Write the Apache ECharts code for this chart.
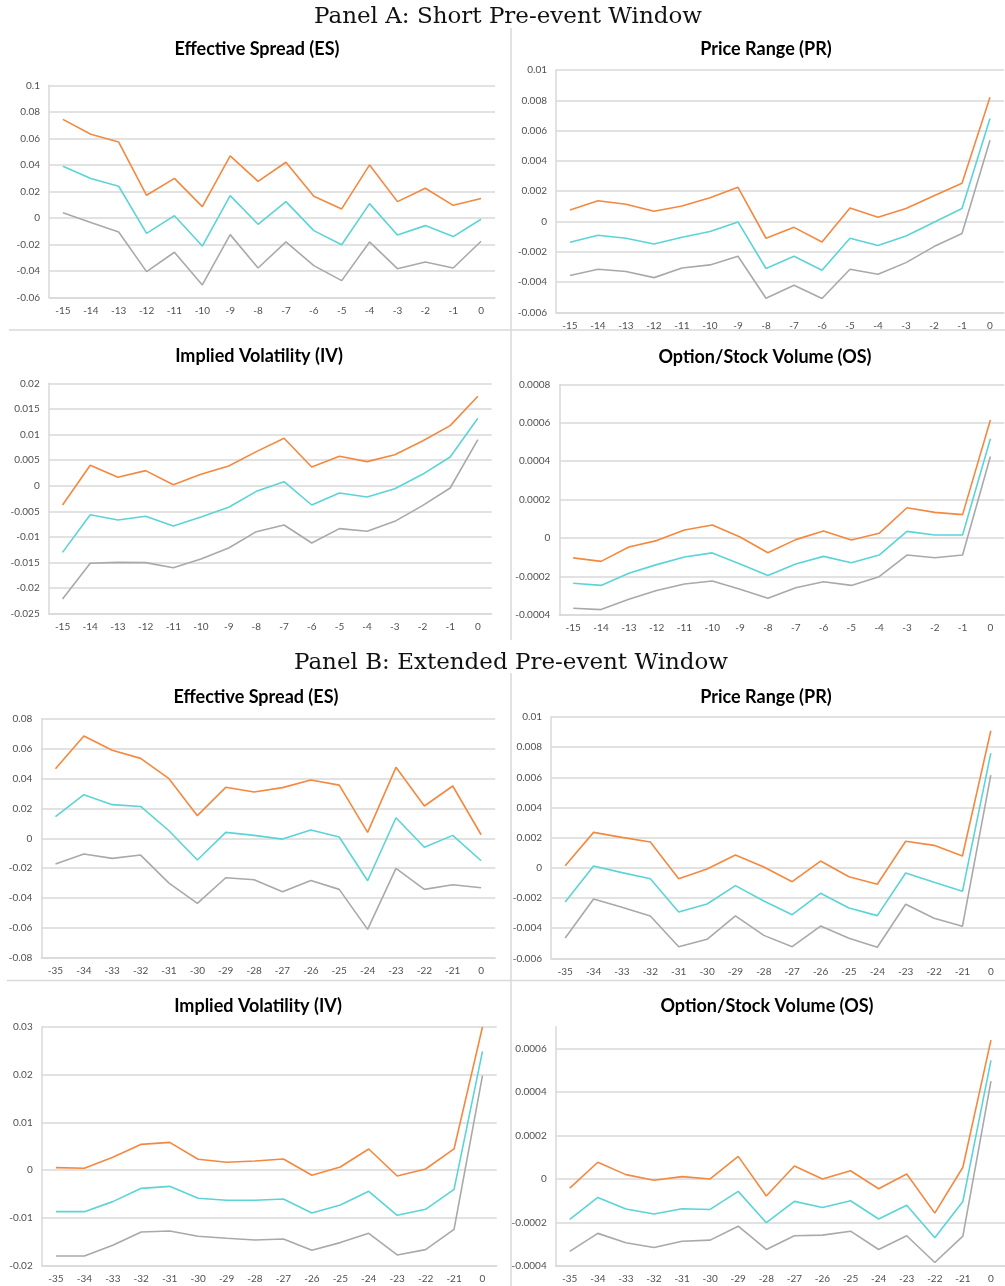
<!DOCTYPE html>
<html>
<head>
<meta charset="utf-8">
<title>Pre-event Window</title>
<script src="https://cdn.jsdelivr.net/npm/echarts@6/dist/echarts.min.js"></script>
<style>
    html, body { margin: 0; padding: 0; background: #fff; }
    #main { width: 1005px; height: 1286px; }
</style>
</head>
<body>
<div id="main"></div>
<script>
// event days
var daysA = ['-15', '-14', '-13', '-12', '-11', '-10', '-9', '-8', '-7', '-6', '-5', '-4', '-3', '-2', '-1', '0'];
var daysB = ['-35', '-34', '-33', '-32', '-31', '-30', '-29', '-28', '-27', '-26', '-25', '-24', '-23', '-22', '-21', '0'];

// Panel A
var esA_upper = [0.0743, 0.063, 0.0572, 0.017, 0.0298, 0.0084, 0.0467, 0.0275, 0.0419, 0.0163, 0.0067, 0.0399, 0.0122, 0.0223, 0.0094, 0.0145];
var esA_mid = [0.0389, 0.0296, 0.0238, -0.0117, 0.0016, -0.0213, 0.0167, -0.0049, 0.0122, -0.0097, -0.0203, 0.0107, -0.013, -0.0059, -0.0142, -0.0011];
var esA_lower = [0.0039, -0.0036, -0.0107, -0.0406, -0.026, -0.0507, -0.0127, -0.0379, -0.0182, -0.0361, -0.0474, -0.0182, -0.0384, -0.0333, -0.0379, -0.0177];

var prA_upper = [0.00076, 0.00137, 0.00113, 0.00067, 0.00102, 0.00157, 0.00225, -0.00111, -0.00039, -0.00136, 0.00089, 0.00027, 0.00085, 0.0017, 0.00252, 0.0082];
var prA_mid = [-0.00137, -0.00091, -0.00111, -0.00149, -0.00104, -0.00067, -0.00003, -0.00311, -0.0023, -0.00322, -0.00111, -0.00159, -0.00096, -0.00005, 0.00085, 0.00679];
var prA_lower = [-0.00357, -0.00316, -0.00331, -0.00371, -0.00307, -0.00287, -0.0023, -0.00507, -0.00421, -0.00509, -0.00316, -0.00349, -0.00272, -0.00166, -0.0008, 0.00536];

var ivA_upper = [-0.00377, 0.00398, 0.00164, 0.00294, 0.0002, 0.00222, 0.00385, 0.00665, 0.00926, 0.00365, 0.00574, 0.0047, 0.00606, 0.00873, 0.01173, 0.01746];
var ivA_mid = [-0.01302, -0.00566, -0.0067, -0.00598, -0.00787, -0.00611, -0.00422, -0.0011, 0.00079, -0.00377, -0.00142, -0.00221, -0.00058, 0.00222, 0.00561, 0.01316];
var ivA_lower = [-0.02213, -0.01516, -0.01497, -0.01503, -0.01601, -0.01432, -0.01217, -0.00898, -0.00768, -0.01119, -0.00839, -0.00891, -0.00696, -0.0039, -0.00045, 0.009];

var osA_upper = [-0.000103, -0.000121, -0.000046, -0.000013, 0.000042, 0.000068, 0.000006, -0.000076, -0.000008, 0.000037, -0.00001, 0.000025, 0.000158, 0.000134, 0.000122, 0.000614];
var osA_mid = [-0.000235, -0.000246, -0.000183, -0.000138, -0.000098, -0.000077, -0.000135, -0.000195, -0.000135, -0.000095, -0.000128, -0.000088, 0.000035, 0.000016, 0.000016, 0.000517];
var osA_lower = [-0.000365, -0.000372, -0.000318, -0.000273, -0.000239, -0.000223, -0.000266, -0.000313, -0.000258, -0.000227, -0.000246, -0.000201, -0.000088, -0.000102, -0.000088, 0.000424];

// Panel B
var esB_upper = [0.0467, 0.0686, 0.059, 0.0536, 0.04, 0.0152, 0.0342, 0.0311, 0.034, 0.0391, 0.0357, 0.004, 0.0476, 0.0217, 0.0351, 0.0024];
var esB_mid = [0.0145, 0.0293, 0.0226, 0.0214, 0.0051, -0.0145, 0.004, 0.002, -0.0005, 0.0056, 0.0009, -0.0284, 0.0138, -0.006, 0.002, -0.015];
var esB_lower = [-0.0172, -0.0105, -0.0134, -0.0112, -0.03, -0.0436, -0.0264, -0.0277, -0.0358, -0.0282, -0.0342, -0.061, -0.0201, -0.0342, -0.0311, -0.0331];

var prB_upper = [0.00014, 0.00235, 0.00202, 0.00171, -0.00072, -0.00008, 0.00085, 0.00005, -0.00092, 0.00045, -0.00059, -0.00109, 0.00176, 0.00149, 0.00078, 0.00909];
var prB_mid = [-0.00227, 0.00012, -0.00032, -0.00072, -0.00293, -0.0024, -0.00118, -0.0022, -0.00311, -0.00169, -0.00266, -0.00317, -0.00034, -0.00096, -0.00156, 0.00761];
var prB_lower = [-0.00465, -0.00207, -0.00262, -0.00319, -0.00523, -0.00474, -0.00319, -0.00448, -0.00523, -0.00386, -0.00467, -0.00527, -0.00242, -0.00335, -0.00388, 0.00615];

var ivB_upper = [0.00049, 0.00035, 0.00266, 0.00538, 0.0058, 0.00224, 0.00161, 0.00189, 0.00231, -0.00112, 0.00063, 0.00441, -0.00126, 0.00021, 0.00441, 0.03];
var ivB_mid = [-0.00874, -0.00874, -0.00664, -0.00385, -0.00343, -0.00594, -0.00636, -0.00636, -0.00608, -0.00902, -0.00734, -0.00448, -0.00951, -0.00825, -0.00406, 0.0249];
var ivB_lower = [-0.01804, -0.01804, -0.0158, -0.01301, -0.0128, -0.01392, -0.01434, -0.01469, -0.01448, -0.01685, -0.01524, -0.01329, -0.01783, -0.01671, -0.01245, 0.01979];

var osB_upper = [-0.000042, 0.000077, 0.00002, -0.000006, 0.000011, 0.0, 0.000104, -0.000078, 0.00006, 0.0, 0.000038, -0.000045, 0.000023, -0.000157, 0.000054, 0.000638];
var osB_mid = [-0.000186, -0.000085, -0.000138, -0.000161, -0.000137, -0.00014, -0.000057, -0.000201, -0.000103, -0.000131, -0.0001, -0.000184, -0.000121, -0.00027, -0.000103, 0.000545];
var osB_lower = [-0.000333, -0.00025, -0.000293, -0.000315, -0.000286, -0.000281, -0.000217, -0.000324, -0.000261, -0.000258, -0.00024, -0.000324, -0.000261, -0.000384, -0.000263, 0.00045];

var colors = ['#f5883f', '#5bd4d8', '#a9a9a9'];
var gridColor = '#d9d9d9';
var labelColor = '#505050';

// one entry per small chart
var charts = [
    {title: 'Effective Spread (ES)', tx: 257, ty: 49, days: daysA, lines: [esA_upper, esA_mid, esA_lower],
        min: -0.06, max: 0.1, step: 0.02, grid: {left: 49, top: 85.3, width: 446, height: 212}},
    {title: 'Price Range (PR)', tx: 766, ty: 49, days: daysA, lines: [prA_upper, prA_mid, prA_lower],
        min: -0.006, max: 0.01, step: 0.002, grid: {left: 556, top: 70, width: 448, height: 242.3}},
    {title: 'Implied Volatility (IV)', tx: 259, ty: 356, days: daysA, lines: [ivA_upper, ivA_mid, ivA_lower],
        min: -0.025, max: 0.02, step: 0.005, grid: {left: 48.7, top: 383.3, width: 443, height: 230.4}},
    {title: 'Option/Stock Volume (OS)', tx: 765, ty: 357, days: daysA, lines: [osA_upper, osA_mid, osA_lower],
        min: -0.0004, max: 0.0008, step: 0.0002, grid: {left: 559.3, top: 384.3, width: 445, height: 230.7}},
    {title: 'Effective Spread (ES)', tx: 256, ty: 697, days: daysB, lines: [esB_upper, esB_mid, esB_lower],
        min: -0.08, max: 0.08, step: 0.02, grid: {left: 41.3, top: 719, width: 454, height: 238.7}},
    {title: 'Price Range (PR)', tx: 766, ty: 697, days: daysB, lines: [prB_upper, prB_mid, prB_lower],
        min: -0.006, max: 0.01, step: 0.002, grid: {left: 551, top: 717, width: 456, height: 241.3}},
    {title: 'Implied Volatility (IV)', tx: 258, ty: 1006, days: daysB, lines: [ivB_upper, ivB_mid, ivB_lower],
        min: -0.02, max: 0.03, step: 0.01, grid: {left: 41.7, top: 1027, width: 455, height: 238.3}},
    {title: 'Option/Stock Volume (OS)', tx: 767, ty: 1006, days: daysB, lines: [osB_upper, osB_mid, osB_lower],
        min: -0.0004, max: 0.0007, step: 0.0002, grid: {left: 555.7, top: 1026.7, width: 453, height: 239.3}, hideTop: true}
];

var grids = [], xAxes = [], yAxes = [], series = [];
var graphics = [
    // panel headings
    {type: 'text', x: 508, y: 17, style: {text: 'Panel A: Short Pre-event Window', font: '23px "DejaVu Serif"', fill: '#111', textAlign: 'center', textVerticalAlign: 'middle'}},
    {type: 'text', x: 511, y: 663, style: {text: 'Panel B: Extended Pre-event Window', font: '23px "DejaVu Serif"', fill: '#111', textAlign: 'center', textVerticalAlign: 'middle'}},
    // thin frame lines between the charts
    {type: 'line', shape: {x1: 511, y1: 28, x2: 511, y2: 640}, style: {stroke: gridColor, lineWidth: 1.5}},
    {type: 'line', shape: {x1: 511, y1: 673, x2: 511, y2: 1286}, style: {stroke: gridColor, lineWidth: 1.5}},
    {type: 'line', shape: {x1: 9, y1: 330, x2: 1005, y2: 330}, style: {stroke: gridColor, lineWidth: 1.5}},
    {type: 'line', shape: {x1: 7, y1: 980.5, x2: 1005, y2: 980.5}, style: {stroke: gridColor, lineWidth: 1.5}}
];

charts.forEach(function (c, i) {
    grids.push(c.grid);
    xAxes.push({
        type: 'category', gridIndex: i, data: c.days,
        axisLine: {show: true, onZero: false, lineStyle: {color: gridColor, width: 1.5}},
        axisTick: {show: false},
        axisLabel: {color: labelColor, fontFamily: 'Lato', fontSize: 10, margin: 8}
    });
    yAxes.push({
        type: 'value', gridIndex: i, min: c.min, max: c.max, interval: c.step,
        axisLine: {show: true, lineStyle: {color: gridColor, width: 1.5}},
        axisTick: {show: false},
        splitLine: {show: true, showMaxLine: !c.hideTop, lineStyle: {color: gridColor, width: 1.5}},
        axisLabel: {
            color: labelColor, fontFamily: 'Lato', fontSize: 10, margin: 9, showMaxLabel: !c.hideTop,
            formatter: function (v) { return String(parseFloat(v.toFixed(6))); }
        }
    });
    c.lines.forEach(function (vals, k) {
        series.push({
            type: 'line', xAxisIndex: i, yAxisIndex: i, data: vals,
            symbol: 'none', lineStyle: {color: colors[k], width: 1.6}, itemStyle: {color: colors[k]},
            z: 3 - k
        });
    });
    graphics.push({type: 'text', x: c.tx, y: c.ty, style: {text: c.title, font: 'bold 18px Lato', fill: '#000', textAlign: 'center', textVerticalAlign: 'middle'}});
});

var myChart = echarts.init(document.getElementById('main'));
myChart.setOption({
    animation: false,
    backgroundColor: '#fff',
    grid: grids,
    xAxis: xAxes,
    yAxis: yAxes,
    series: series,
    graphic: graphics
});
</script>
</body>
</html>
